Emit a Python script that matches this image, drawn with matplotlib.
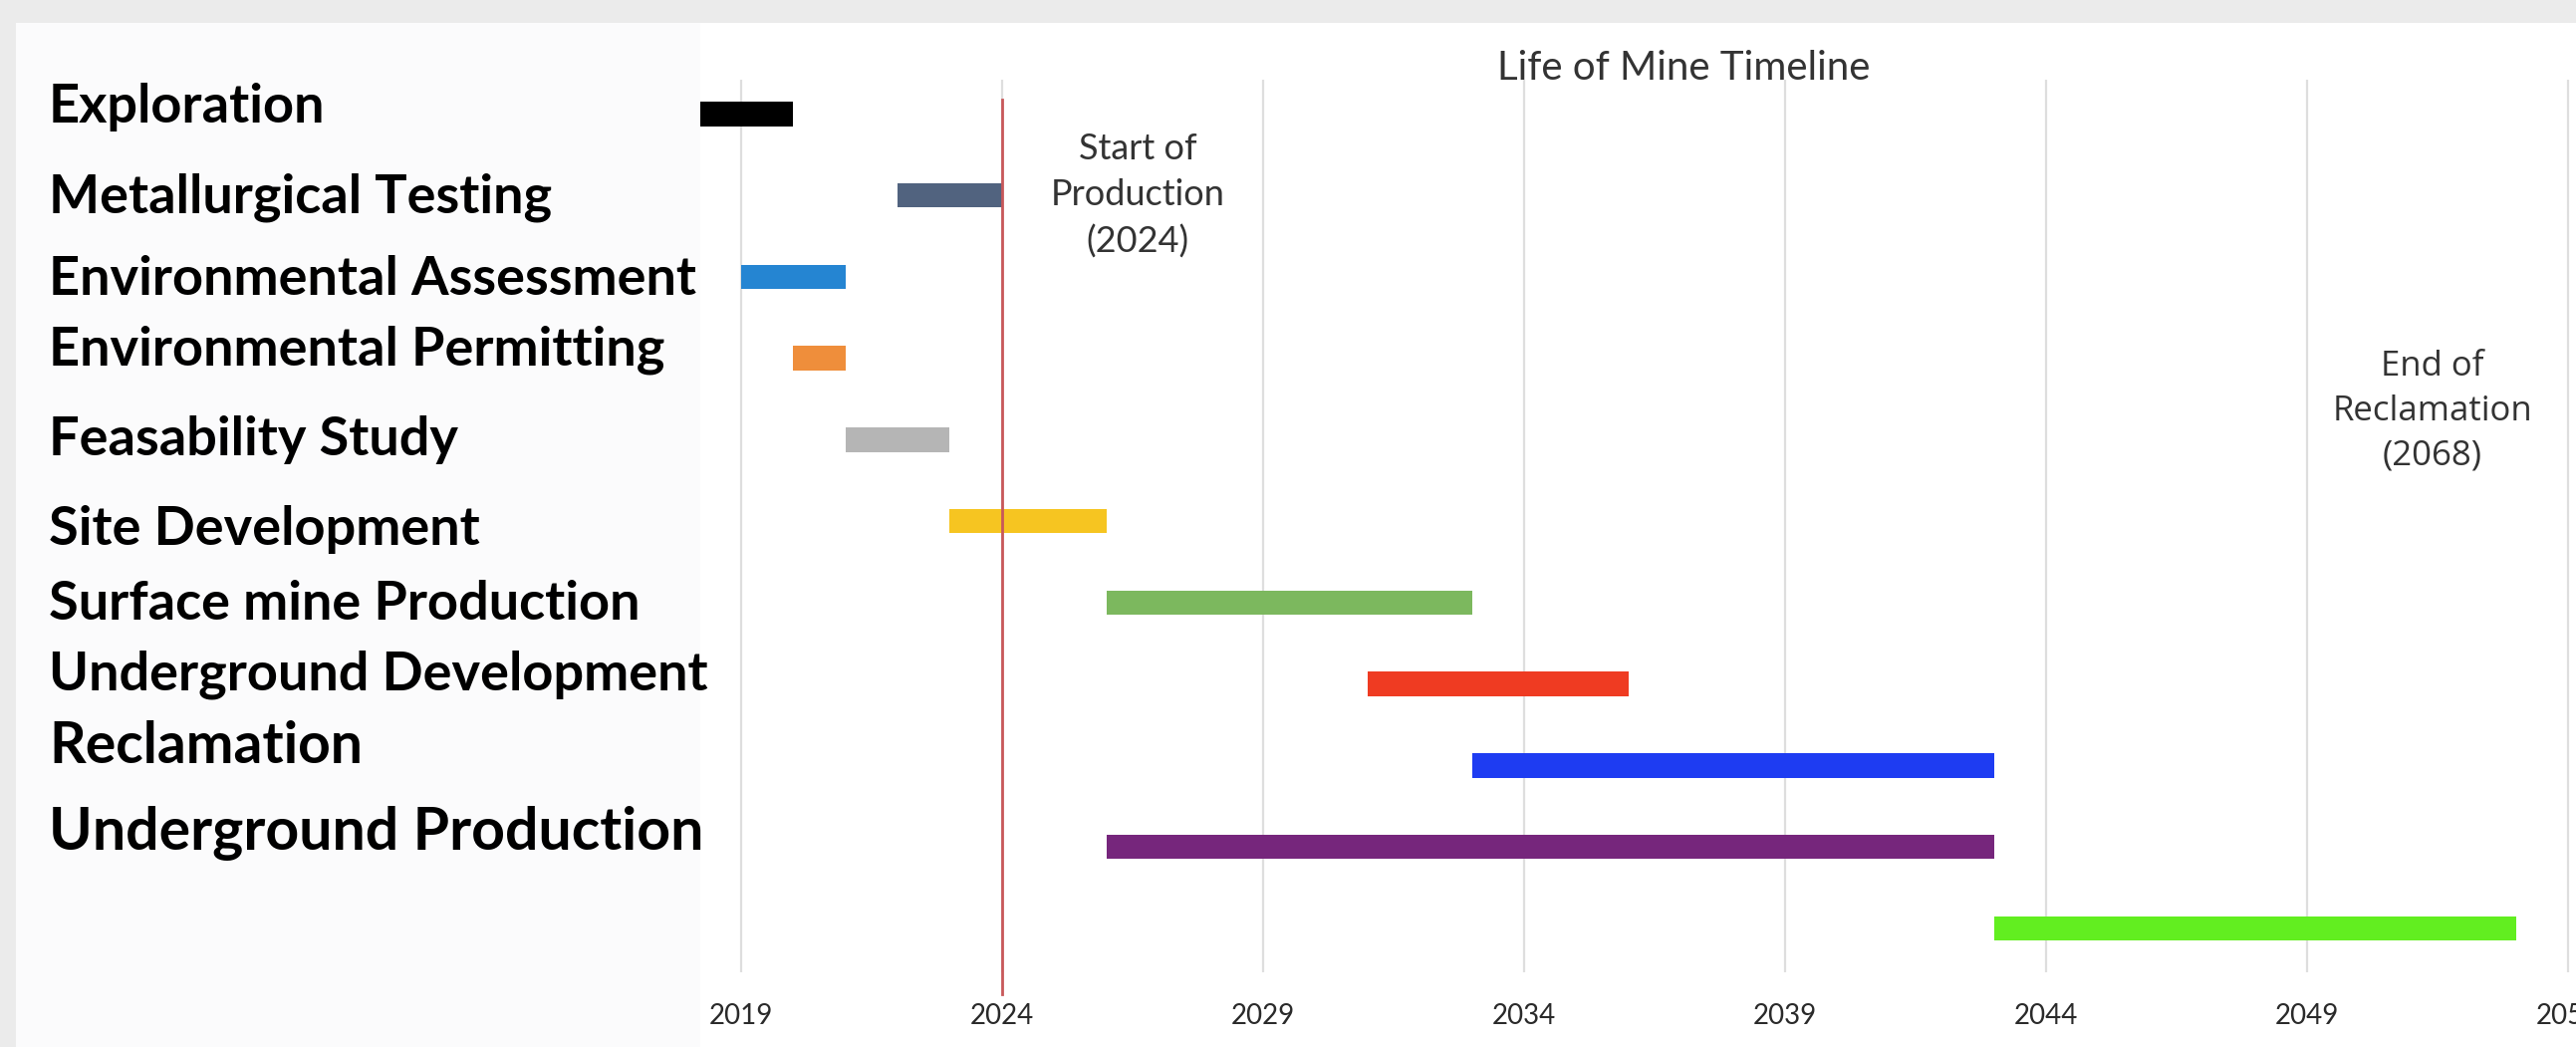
import matplotlib
matplotlib.use("Agg")
import matplotlib.pyplot as plt
from matplotlib.patches import Rectangle

# phases shown in the left panel
labels = ["Exploration", "Metallurgical Testing", "Environmental Assessment",
          "Environmental Permitting", "Feasability Study", "Site Development",
          "Surface mine Production", "Underground Development", "Reclamation",
          "Underground Production"]

# bars of the timeline (years)
bar_start = [2017, 2022, 2019, 2020, 2021, 2023, 2026, 2031, 2033, 2026, 2043]
bar_end = [2020, 2024, 2021, 2021, 2023, 2026, 2033, 2036, 2043, 2043, 2053]
bar_colors = ["#000000", "#51637f", "#2585d2", "#ef8e3b", "#b5b5b5", "#f6c521",
              "#7cb85e", "#ef3b22", "#1e3cf2", "#76267c", "#62ee20"]

year_ticks = [2019, 2024, 2029, 2034, 2039, 2044, 2049, 2054]
start_year = 2024

W, H = 2586, 1051
fig = plt.figure(figsize=(W / 100, H / 100), dpi=100, facecolor="#ebebeb")

# white chart panel and off-white label panel (behind the axes)
fig.patches.append(Rectangle((703 / W, 0), 1 - 703 / W, 1 - 23 / H,
                             transform=fig.transFigure, facecolor="white",
                             edgecolor="none", zorder=-2))
fig.patches.append(Rectangle((16 / W, 0), (703 - 16) / W, 1 - 23 / H,
                             transform=fig.transFigure, facecolor="#fbfbfc",
                             edgecolor="none", zorder=-2))

ax = fig.add_axes([703 / W, 75 / H, 0.7453, 896 / H])
ax.patch.set_alpha(0)

ypos = list(range(len(bar_start)))
widths = [e - s for s, e in zip(bar_start, bar_end)]
ax.barh(ypos, widths, left=bar_start, height=0.3, color=bar_colors, zorder=3)

ax.set_xlim(2018.22, 2055)
ax.set_ylim(10.54, -0.42)
ax.set_xticks(year_ticks)
ax.set_xticklabels([str(y) for y in year_ticks], fontsize=20, color="#2a2a2a",
                   family=["Lato", "DejaVu Sans"])
ax.set_yticks([])
ax.tick_params(axis="x", length=0, pad=22)
ax.grid(axis="x", color="#dedede", linewidth=1.6, zorder=0)
for s in ax.spines.values():
    s.set_visible(False)

ax.axvline(start_year, ymin=-0.025, ymax=0.978, color="#c8585a", linewidth=2,
           clip_on=False, zorder=4)

ax.text(2026.6, 1.0, "Start of\nProduction\n(2024)", ha="center", va="center",
        fontsize=26, color="#333333", family=["Lato", "DejaVu Sans"], linespacing=1.48)
ax.text(2051.4, 3.65, "End of\nReclamation\n(2068)", ha="center", va="center",
        fontsize=25, color="#333333", family=["Open Sans", "DejaVu Sans"], linespacing=1.42)

fig.text(1690 / W, 1 - 69 / H, "Life of Mine Timeline", ha="center", va="center",
         fontsize=29, color="#333333", family=["Lato", "DejaVu Sans"])

label_y = [108, 198, 280, 351, 441, 532, 606, 677, 750, 836]
label_size = [39, 39, 39, 39, 39, 39, 39, 39, 41, 42.5]
for txt, y, fs in zip(labels, label_y, label_size):
    fig.text(49 / W, 1 - y / H, txt, ha="left", va="center", fontsize=fs,
             fontweight="bold", color="black", family=["Lato", "DejaVu Sans"])

fig.savefig("out.png", dpi=100, facecolor=fig.get_facecolor())
